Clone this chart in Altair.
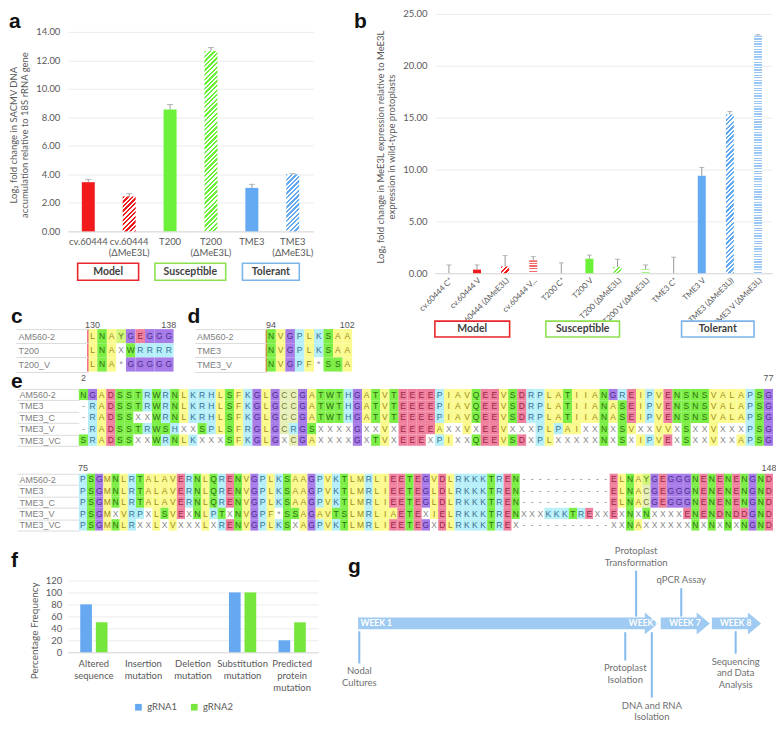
import altair as alt
import pandas as pd

FONT = "Lato"
GRAY = "#595959"
RED = "#f21b1b"
GREEN = "#6cf03a"
BLUE = "#63aaf2"
GRID = "#ececec"
ERRC = "#9a9a9a"
LETTER_FONT = "Liberation Sans"

# ---------------- data: panel a ----------------
a_cats = ["cv.60444", "cv.60444 (ΔMeE3L)", "T200", "T200 (ΔMeE3L)", "TME3", "TME3 (ΔMeE3L)"]
a_vals = [3.45, 2.45, 8.55, 12.65, 3.05, 4.00]
a_errs = [0.20, 0.20, 0.35, 0.25, 0.25, 0.05]
a_style = ["solid", "hatch", "solid", "hatch", "solid", "hatch"]
a_cols = [RED, RED, GREEN, GREEN, BLUE, BLUE]
a_title = ["Log₂ fold change in SACMV DNA", "accumulation relative to 18S rRNA gene"]
a_box_x0 = [0.24, 2.13, 4.27]   # box extents in bar-slot units
a_box_x1 = [1.73, 3.86, 5.66]

# ---------------- data: panel b ----------------
b_cats = ["cv.60444 C*", "cv.60444 V", "cv.60444 (ΔMeE3L)", "cv.60444 V...",
          "T200 C*", "T200 V", "T200 (ΔMeE3L)", "T200 V (ΔMeE3L)",
          "TME3 C*", "TME3 V", "TME3 (ΔMeE3L))", "TME3 V (ΔMeE3L)"]
b_vals = [0.0, 0.35, 0.65, 1.25, 0.0, 1.40, 0.60, 0.40, 0.0, 9.40, 15.30, 22.90]
b_errs = [0.80, 0.45, 1.05, 0.35, 1.00, 0.35, 0.75, 0.40, 1.55, 0.80, 0.30, 0.10]
b_style = ["solid", "solid", "hatch", "dots", "solid", "solid", "hatch", "dots",
           "solid", "solid", "hatch", "dots"]
b_cols = [RED] * 4 + [GREEN] * 4 + [BLUE] * 4
b_title = ["Log₂ fold change in MeE3L expression relative to MeE3L",
           "expression  in wild-type protoplasts"]
b_box_x0 = [0.0, 3.95, 8.78]
b_box_x1 = [2.66, 6.57, 11.36]

groups = ["Model", "Susceptible", "Tolerant"]
group_cols = ["#e8262b", "#8fe04f", "#7db4ea"]

# ---------------- data: alignments ----------------
c_names = ["AM560-2", "T200", "T200_V"]
c_seqs = ["LNAYGEGGG", "LNAXWRRRR", "LNA*GGGGG"]
c_nums = ["130", "138"]

d_names = ["AM560-2", "TME3", "TME3_V"]
d_seqs = ["NVGPLKSAA", "NVGPLKSAA", "NVGPF*SSA"]
d_nums = ["94", "102"]

e_names = ["AM560-2", "TME3", "TME3_C", "TME3_V", "TME3_VC"]
e1_seqs = [
    "NGADSSTRWRNLKRHLSFKGLGCCGATWTHGATV" + "TEEEEPIAVQEEVSDRPLATIIANGREIPVENSNSVALAPSG",
    "-RADSSTRWRNLKRHLSFKGLGCCGATWTHGATV" + "TEEEEPIAVQEEVSDRPLATIIANASEIPVENSNSVALAPSG",
    "-RADSSXXWRNLKRHLSFKGLGCCGATWTHGATV" + "TEEEEPIAVQEEVSDRPLATIIANASEIPVENSNSVALAPSG",
    "-RADSSTRWSHXXSPLSFRGLGCRGSXXXXGXXV" + "XEEEEAXXVXEEVXXXPLPAIXXNXSVXXVVXSXXVXXXPSG",
    "SRADSSXXWRNLKXXXSFKGLGXCGAXXXXGXTV" + "XEEEXPIXXQEEVSDXPLXXXXXNXSXIPVEXSXXVXXAPSG",
]
e1_nums = ["2", "77"]
e2_seqs = [
    "PSGMNLRTALAVERNLQRENVGPLKSAAGPVKTLMRL" + "IEETEGVDLRKKKTREN" + "-" * 11 + "ELNAYGEGGGNENENENGND",
    "PSGMNLRTALAVERNLQRENVGPLKSAAGPVKTLMRL" + "IEETEGLDLRKKKTREN" + "-" * 11 + "ELNACGEGGGNENENENGND",
    "PSGMNLRTALAVERNLQRENVGPLKSAAGPVKTLMRL" + "IEETEGLDLRKKKTREN" + "-" * 11 + "ELNACGEGGGNENENENGND",
    "PSGMXVRPXLSVEXNLPTXNVGPF*SSAGAVTSLMRL" + "IAETEXIELRKKKTREN" + "XXXKKKTREXX" + "EXNXNXXXXENENDNDDGND",
    "PSGMNLRXXLXVXXXLXRENVGPLKSXAGPVKTLMRL" + "IEETEGXDLRKKKTREX" + "-" * 11 + "XXNAXXXXXXNXNXNXNGND",
]
e2_nums = ["75", "148"]

# ---------------- data: panel f ----------------
f_cats = ["Altered sequence", "Insertion mutation", "Deletion mutation",
          "Substitution mutation", "Predicted protein mutation"]
f_series = ["gRNA1", "gRNA2"]
f_g1 = [80, 0, 0, 100, 20]
f_g2 = [50, 0, 0, 100, 50]
f_cols = ["#66a9f1", "#77e63c"]

# ---------------- data: panel g (schematic timeline, position 0-100) ----------------
g_events = ["Nodal\nCultures", "Protoplast\nIsolation", "Protoplast\nTransformation",
            "DNA and RNA\nIsolation", "qPCR Assay", "Sequencing\nand Data\nAnalysis"]
g_pos = [0.3, 66.3, 69.0, 72.9, 80.2, 93.7]
g_side = ["below", "below", "above", "below", "above", "below"]
g_line_from = [-9, -10, 6, -10, 6, -9]
g_line_to = [-42, -39, 53, -77, 35, -32]
g_arrow_start = [0.0, 75.1, 87.8]
g_arrow_tip = [74.4, 87.3, 100.0]
g_weeks = ["WEEK 1", "WEEK 6", "WEEK 7", "WEEK 8"]
g_week_pos = [0.6, 67.2, 77.2, 89.8]

# ---------------- helpers ----------------
def hatch(color, w, h, period=4.6, duty=0.5, bg="white"):
    K = w + h
    s = K / (w * w + h * h)
    stops = []
    i = 0
    while True:
        a = i * period / K
        if a >= 1:
            break
        b = min((i + duty) * period / K, 1)
        c = min((i + 1) * period / K, 1)
        stops += [(a, color), (b, color), (b, bg), (c, bg)]
        i += 1
    return alt.LinearGradient(gradient="linear", x1=0, y1=0, x2=w * s, y2=h * s,
                              stops=[alt.GradientStop(offset=o, color=cc) for o, cc in stops])


def dots(color, h, period=2.6, bg="white"):
    stops = []
    i = 0
    while True:
        a = i * period / h
        if a >= 1:
            break
        b = min((i + 0.5) * period / h, 1)
        c = min((i + 1) * period / h, 1)
        stops += [(a, color), (b, color), (b, bg), (c, bg)]
        i += 1
    return alt.LinearGradient(gradient="linear", x1=0, y1=0, x2=0, y2=1,
                              stops=[alt.GradientStop(offset=o, color=cc) for o, cc in stops])


def lighten(hexc, f):
    hexc = hexc.lstrip("#")
    r, g, b = [int(hexc[i:i + 2], 16) for i in (0, 2, 4)]
    r, g, b = [int(v + (255 - v) * f) for v in (r, g, b)]
    return "#%02x%02x%02x" % (r, g, b)


def letter_layer(t, dx, dy, size=21):
    return alt.Chart(pd.DataFrame({"t": [t]})).mark_text(
        font=LETTER_FONT, fontSize=size, fontWeight="bold", align="left",
        baseline="alphabetic", color="#111111"
    ).encode(text="t:N", x=alt.value(dx), y=alt.value(dy))


def bar_panel(cats, vals, errs, styles, cols, W, H, ymax, ystep, bar, ytitle,
              xaxis, letter, ldx, ldy, box_y, box_x0, box_x1, cap, yshift, title_y):
    df = pd.DataFrame(dict(cat=cats, val=vals, hi=[v + e for v, e in zip(vals, errs)],
                           style=styles, col=cols))
    xs = alt.Scale(domain=cats, paddingInner=0.5, paddingOuter=0.25)
    ys = alt.Scale(domain=[0, ymax], nice=False, range=[H + yshift, yshift])
    X = alt.X("cat:N", scale=xs, axis=xaxis)
    yaxis = alt.Axis(values=list(range(0, ymax + 1, ystep)), format=".2f", grid=True,
                     gridColor=GRID, domain=False, ticks=False, labelColor=GRAY,
                     labelFontSize=9.5, labelPadding=8, title=ytitle, titleColor=GRAY,
                     titleFontSize=9.5, titleFontWeight="normal", titlePadding=6,
                     titleY=title_y)
    Y = alt.Y("val:Q", scale=ys, axis=yaxis)
    base = alt.Chart(df)
    layers = [base.transform_filter("datum.style == 'solid'").mark_bar(size=bar).encode(
        x=X, y=Y, color=alt.Color("col:N", scale=None))]
    for i, c in enumerate(cats):
        if styles[i] == "solid" or vals[i] <= 0:
            continue
        h = vals[i] / ymax * H
        if styles[i] == "hatch":
            fill = hatch(cols[i], bar, h)
        else:
            fill = dots(lighten(cols[i], 0.35), h)
        layers.append(base.transform_filter(alt.FieldEqualPredicate(field="cat", equal=c))
                      .mark_bar(size=bar, fill=fill).encode(x=X, y=Y))
    layers.append(base.mark_rule(color=ERRC, strokeWidth=1).encode(
        x=X, y=Y, y2="hi:Q"))
    layers.append(base.mark_tick(color=ERRC, size=cap, thickness=1).encode(
        x=X, y=alt.Y("hi:Q", scale=ys, axis=yaxis)))
    inner = alt.layer(*layers)

    gdf = pd.DataFrame(dict(grp=groups, col=group_cols, x0=box_x0, x1=box_x1))
    gdf["xm"] = (gdf["x0"] + gdf["x1"]) / 2
    gsc = alt.Scale(domain=[0, len(cats)], nice=False, zero=False)
    brect = alt.Chart(gdf).mark_rect(fill="white", strokeWidth=1.6).encode(
        x=alt.X("x0:Q", scale=gsc, axis=None), x2="x1:Q",
        y=alt.value(box_y[0] + yshift), y2=alt.value(box_y[1] + yshift),
        stroke=alt.Stroke("col:N", scale=None))
    btext = alt.Chart(gdf).mark_text(fontWeight="bold", fontSize=10.5, color="#3f3f3f",
                                     baseline="middle").encode(
        x=alt.X("xm:Q", scale=gsc, axis=None),
        y=alt.value((box_y[0] + box_y[1]) / 2 + yshift), text="grp:N")
    boxes = alt.layer(brect, btext)
    return alt.layer(inner, boxes, letter_layer(letter, ldx, ldy)).resolve_scale(
        x="independent").properties(width=W, height=H + yshift)


BG = {"y": "#fafa8e", "g": "#7dee46", "p": "#f0819e", "c": "#b6eff8", "u": "#a77ce8",
      "Y": "#d2f57a", "C": "#e6efb8", "n": "#ffffff"}
FG = {"y": "#9c8a24", "g": "#2f6e12", "p": "#9a2848", "c": "#3b6f94", "u": "#4f2f8c",
      "Y": "#56801a", "C": "#7a7a40", "n": "#8a8a8a"}


def res_class(ch):
    if ch in "ALIVMF":
        return "y"
    if ch in "NSTQW":
        return "g"
    if ch in "DE":
        return "p"
    if ch in "RKHP":
        return "c"
    if ch == "G":
        return "u"
    if ch == "Y":
        return "Y"
    if ch == "C":
        return "C"
    return "n"


def align_chart(names, seqs, nums, width, row_h, label_w, num_pad, xshift=0,
                letter=None, ldx=0, ldy=0, cursor=None):
    recs = []
    for name, seq in zip(names, seqs):
        for i, ch in enumerate(seq):
            k = res_class(ch)
            recs.append(dict(name=name, col=i, res=ch, bg=BG[k], fg=FG[k]))
    df = pd.DataFrame(recs)
    n = len(seqs[0])
    h = row_h * len(names)
    X = alt.X("col:O", scale=alt.Scale(domain=list(range(n)), paddingInner=0, paddingOuter=0,
                                       range=[xshift, xshift + width]),
              axis=alt.Axis(orient="top", values=[0, n - 1],
                            labelExpr=f"datum.value == 0 ? '{nums[0]}' : '{nums[1]}'",
                            ticks=False, domain=False, labelAngle=0, labelFontSize=9,
                            labelColor="#555555", labelPadding=num_pad, title=None,
                            labelFont="Liberation Sans", labelOverlap=False))
    Y = alt.Y("name:N", scale=alt.Scale(domain=names, paddingInner=0, paddingOuter=0),
              axis=alt.Axis(title=None, tickBand="extent", tickSize=label_w,
                            tickColor="#dcdcdc", tickWidth=1, labelAlign="left",
                            labelPadding=-2, labelFontSize=9, labelColor="#808080",
                            domain=False, labelFont="Liberation Sans", labelOverlap=False,
                            offset=-xshift))
    base = alt.Chart(df)
    rect = base.mark_rect().encode(x=X, y=Y, color=alt.Color("bg:N", scale=None))
    text = base.mark_text(fontSize=8.5, font="Liberation Sans", baseline="middle").encode(
        x=X, y=Y, text="res:N", color=alt.Color("fg:N", scale=None))
    layers = [rect, text]
    if cursor:
        layers.append(alt.Chart(pd.DataFrame({"t": [0]})).mark_rule(
            color=cursor, strokeWidth=1.5).encode(x=alt.value(xshift), y=alt.value(0),
                                                  y2=alt.value(h)))
    if letter:
        layers.append(letter_layer(letter, ldx, ldy))
    return alt.layer(*layers).properties(width=width + xshift, height=h)


# ---------------- panel a ----------------
a_xaxis = alt.Axis(title=None, labelAngle=0, labelExpr="split(datum.label, ' ')", ticks=False,
                   domainColor="#d9d9d9", labelColor=GRAY, labelFontSize=9.5, labelPadding=5,
                   labelLineHeight=11.5)
chart_a = bar_panel(a_cats, a_vals, a_errs, a_style, a_cols, 246, 200, 14, 2, 13, a_title,
                    a_xaxis, "a", -59, 14, (232, 249), a_box_x0, a_box_x1, 6, 18, 121)

# ---------------- panel b ----------------
b_xaxis = alt.Axis(title=None, labelAngle=-45, ticks=False, domainColor="#d9d9d9",
                   labelColor=GRAY, labelFontSize=8, labelPadding=3)
chart_b = bar_panel(b_cats, b_vals, b_errs, b_style, b_cols, 338, 260, 25, 5, 8, b_title,
                    b_xaxis, "b", -81, 14, (308, 324), b_box_x0, b_box_x1, 5, 0, 133)

# ---------------- panels c, d, e ----------------
chart_c = align_chart(c_names, c_seqs, c_nums, 86, 14.2, 72, 0, 20, "c", -57, -6, "#f06a8a")
chart_d = align_chart(d_names, d_seqs, d_nums, 86, 14.2, 72, 0, 0, "d", -79, -6, "#c8963c")
chart_e1 = align_chart(e_names, e1_seqs, e1_nums, 696, 11.4, 62, 6, 11, "e", -57, -1)
chart_e2 = align_chart(e_names, e2_seqs, e2_nums, 696, 11.4, 62, 1, 11)

# ---------------- panel f ----------------
f_df = pd.DataFrame(dict(
    cat=f_cats * 2,
    series=[f_series[0]] * len(f_cats) + [f_series[1]] * len(f_cats),
    val=f_g1 + f_g2))
f_bars = alt.Chart(f_df).mark_bar().encode(
    x=alt.X("cat:N", scale=alt.Scale(domain=f_cats, paddingInner=0.45, paddingOuter=0.25),
            axis=alt.Axis(title=None, labelAngle=0, labelExpr="split(datum.label, ' ')",
                          ticks=False, domainColor="#d9d9d9", labelFontSize=9.5,
                          labelColor=GRAY, labelLineHeight=12, labelPadding=6)),
    xOffset=alt.XOffset("series:N", scale=alt.Scale(domain=f_series, paddingInner=0.25)),
    y=alt.Y("val:Q", scale=alt.Scale(domain=[0, 120], nice=False),
            axis=alt.Axis(values=list(range(0, 121, 20)), grid=True, gridColor=GRID,
                          domain=False, ticks=False, labelColor=GRAY, labelFontSize=9.5,
                          labelPadding=6, title="Percentage Frequency", titleColor=GRAY,
                          titleFontSize=10, titleFontWeight="normal", titlePadding=6,
                          titleY=50)),
    color=alt.Color("series:N", scale=alt.Scale(domain=f_series, range=f_cols),
                    legend=alt.Legend(orient="none", legendX=66, legendY=122,
                                      direction="horizontal", title=None, symbolType="square",
                                      symbolSize=45, labelFontSize=9.5, labelColor=GRAY,
                                      columnPadding=12, symbolStrokeWidth=0)))
chart_f = alt.layer(f_bars, letter_layer("f", -57, -13)).properties(width=251, height=72)

# ---------------- panel g ----------------
ARROW = "#9fcaf1"
LINEC = "#85bbee"
TXT = "#707070"
LH = 11.5            # text line height (px)
UNIT = 140 / 143     # px per timeline level unit
GXS = alt.Scale(domain=[0, 100], nice=False, zero=False)
GYS = alt.Scale(domain=[-100, 43], nice=False, zero=False)


def gx(f):
    return alt.X(f, scale=GXS, axis=None)


def gy(f):
    return alt.Y(f, scale=GYS, axis=None)


arr_df = pd.DataFrame(dict(start=g_arrow_start, tip=g_arrow_tip))
arr_df["body_end"] = arr_df["tip"] - 3.0
arr_df["head_x"] = arr_df["tip"] - 1.63
arr_df["top"] = 5
arr_df["bot"] = -7
arr_df["mid"] = -1
ev_df = pd.DataFrame(dict(ev=g_events, pos=g_pos, side=g_side, y1=g_line_from, y2=g_line_to))
ev_df["ty"] = [v - 3 if s == "below" else v + 3 + (e.count("\n")) * LH / UNIT
               for v, s, e in zip(g_line_to, g_side, g_events)]
wk_df = pd.DataFrame(dict(wk=g_weeks, pos=g_week_pos, y=[-1] * len(g_weeks)))

g_body = alt.Chart(arr_df).mark_rect(color=ARROW).encode(
    x=gx("start:Q"), x2="body_end:Q", y=gy("top:Q"), y2="bot:Q")
g_head = alt.Chart(arr_df).mark_point(
    shape="M-0.6,-1L0.6,0L-0.6,1Z", filled=True, size=484, opacity=1, color=ARROW,
    strokeWidth=0).encode(x=gx("head_x:Q"), y=gy("mid:Q"))
g_lines = alt.Chart(ev_df).mark_rule(color=LINEC, strokeWidth=2).encode(
    x=gx("pos:Q"), y=gy("y1:Q"), y2="y2:Q")
g_txt_below = alt.Chart(ev_df).transform_filter("datum.side == 'below'").mark_text(
    baseline="top", lineBreak="\n", lineHeight=LH, fontSize=9.5, color=TXT, align="center"
).encode(x=gx("pos:Q"), y=gy("ty:Q"), text="ev:N")
g_txt_above = alt.Chart(ev_df).transform_filter("datum.side == 'above'").mark_text(
    baseline="bottom", lineBreak="\n", lineHeight=LH, fontSize=9.5, color=TXT, align="center"
).encode(x=gx("pos:Q"), y=gy("ty:Q"), text="ev:N")
g_wk = alt.Chart(wk_df).mark_text(color="white", fontWeight="bold", fontSize=8.5,
                                  align="left", baseline="middle").encode(
    x=gx("pos:Q"), y=gy("y:Q"), text="wk:N")
chart_g = alt.layer(g_body, g_head, g_lines, g_txt_below, g_txt_above, g_wk,
                    letter_layer("g", -10, -7)).properties(width=404, height=140)

# ---------------- layout ----------------
cd_row = alt.hconcat(chart_c, chart_d, spacing=11)
left_col = alt.vconcat(chart_a, cd_row, spacing=25)
row1 = alt.hconcat(left_col, chart_b, spacing=-1)
e_block = alt.vconcat(chart_e1, chart_e2, spacing=17)
row4 = alt.hconcat(chart_f, chart_g, spacing=23).resolve_legend(
    color="independent").resolve_scale(color="independent")
top = alt.vconcat(row1, e_block, spacing=-2)
chart = alt.vconcat(top, row4, spacing=14).resolve_legend(
    color="independent").resolve_scale(color="independent").properties(
    padding=0).configure(font=FONT).configure_view(stroke=None)

chart.save("out.html", embed_options={"renderer": "svg", "actions": False})
